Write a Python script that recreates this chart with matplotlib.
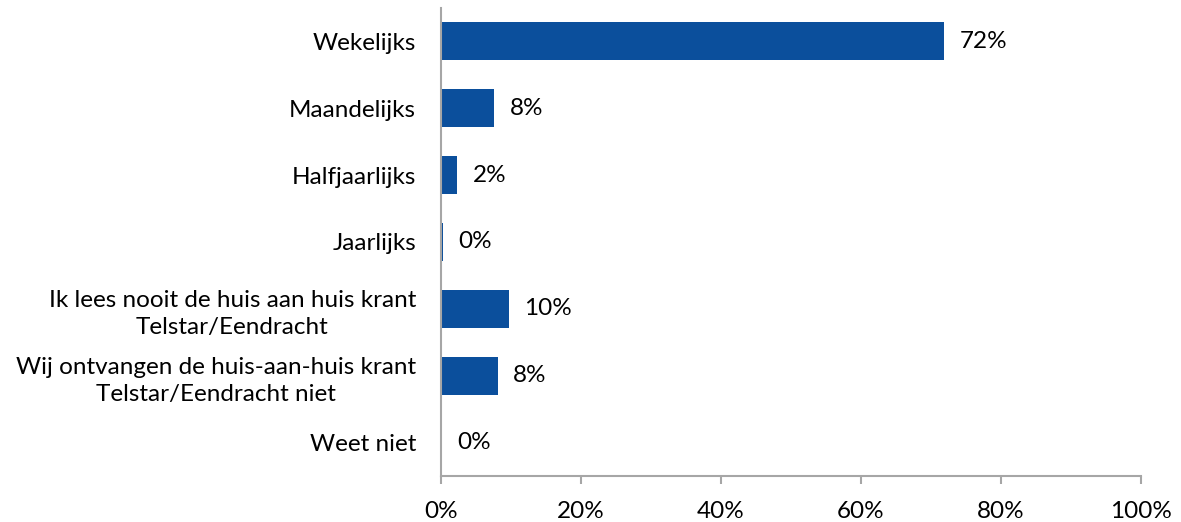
import matplotlib.pyplot as plt
import numpy as np

categories = [
    'Wekelijks',
    'Maandelijks',
    'Halfjaarlijks',
    'Jaarlijks',
    'Ik lees nooit de huis aan huis krant\nTelstar/Eendracht',
    'Wij ontvangen de huis-aan-huis krant\nTelstar/Eendracht niet',
    'Weet niet',
]
values = [71.9, 7.6, 2.3, 0.3, 9.7, 8.1, 0.15]
labels = ['72%', '8%', '2%', '0%', '10%', '8%', '0%']

plt.rcParams['font.family'] = ['Lato', 'DejaVu Sans']

fig = plt.figure(figsize=(11.81, 5.22), dpi=100)
ax = fig.add_axes([441/1181, 1 - 476/522, 700/1181, 468/522])

y = np.arange(len(categories))
ax.barh(y, values, height=0.57, color='#0B4F9C', zorder=2)

for yi, v, lab in zip(y, values, labels):
    ax.annotate(lab, (v, yi), xytext=(11, 0), textcoords='offset points',
                va='center', ha='left', fontsize=17.5, color='black')

ax.set_xlim(0, 100)
ax.set_ylim(len(categories) - 0.5, -0.5)
ax.set_xticks([0, 20, 40, 60, 80, 100])
ax.set_xticklabels(['0%', '20%', '40%', '60%', '80%', '100%'], fontsize=17.5)
ax.set_yticks(y)
ax.set_yticklabels(categories, fontsize=17.5)
for t in ax.get_yticklabels():
    t.set_multialignment('center')
    t.set_linespacing(1.35)

for s in ['top', 'right']:
    ax.spines[s].set_visible(False)
for s in ['left', 'bottom']:
    ax.spines[s].set_color('#A6A6A6')
    ax.spines[s].set_linewidth(1.5)

ax.tick_params(axis='y', length=0, pad=18)
ax.tick_params(axis='x', length=6, width=1.5, color='#A6A6A6', pad=12)

fig.savefig('out.png', dpi=100)
